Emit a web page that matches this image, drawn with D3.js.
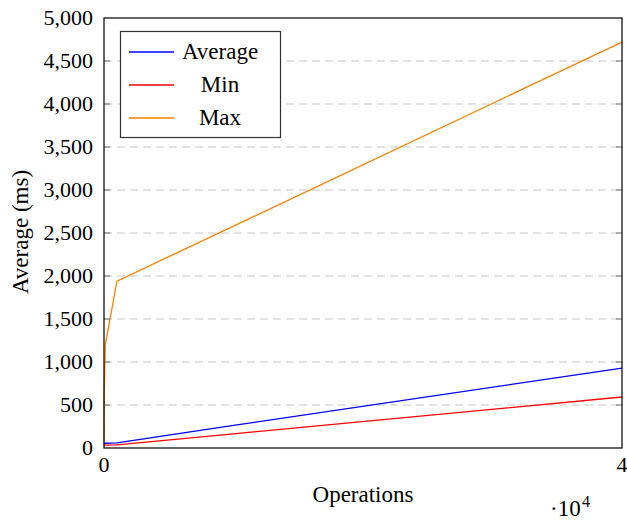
<!DOCTYPE html>
<html><head><meta charset="utf-8">
<script src="https://cdn.jsdelivr.net/npm/d3@7"></script>
<style>body{margin:0;background:#fff}svg{display:block}</style>
</head><body>
<script>
const operations = [1, 10, 100, 1000, 10000, 40000];
const averageVals = [62, 55, 55, 60, 262, 930];
const minVals = [35, 33, 33, 37, 165, 593];
const maxVals = [70, 600, 1200, 1940, 2580, 4720];
const yTicks = [0, 500, 1000, 1500, 2000, 2500, 3000, 3500, 4000, 4500, 5000];
const xTicks = [0, 40000];
const seriesNames = ["Average", "Min", "Max"];
const seriesColors = ["#0000ff", "#ff0000", "#ff8000"];

const W = 627, H = 522;
const L = 104, R = 622, T = 18, B = 448;
const FONT = "'Liberation Serif', 'Times New Roman', Times, 'DejaVu Serif', serif";
const svg = d3.select("body").append("svg").attr("width", W).attr("height", H)
  .attr("font-family", FONT).style("font-family", FONT);
const x = d3.scaleLinear().domain([0, 40000]).range([L, R]);
const y = d3.scaleLinear().domain([0, 5000]).range([B, T]);
const fs = 22, fl = 23;

// grid
svg.append("g").selectAll("line").data(yTicks.filter(d => d > 0 && d < 5000)).join("line")
  .attr("x1", L).attr("x2", R).attr("y1", d => y(d)).attr("y2", d => y(d))
  .attr("stroke", "#c8c8c8").attr("stroke-width", 1.2).attr("stroke-dasharray", "8,5");

// ticks inside (left & right)
const tk = svg.append("g").attr("stroke", "#808080").attr("stroke-width", 1.2);
yTicks.filter(d => d > 0 && d < 5000).forEach(d => {
  tk.append("line").attr("x1", L).attr("x2", L + 6).attr("y1", y(d)).attr("y2", y(d));
  tk.append("line").attr("x1", R - 6).attr("x2", R).attr("y1", y(d)).attr("y2", y(d));
});

// y axis labels
const fmt = d3.format(",");
svg.append("g").selectAll("text").data(yTicks).join("text")
  .attr("x", L - 11).attr("y", d => y(d)).attr("dy", "0.34em")
  .attr("text-anchor", "end").attr("font-size", fs).text(d => fmt(d));
// x labels
svg.append("g").selectAll("text").data(xTicks).join("text")
  .attr("x", d => x(d)).attr("y", B + 24).attr("text-anchor", "middle")
  .attr("font-size", fs).text(d => d / 10000);

// lines
const series = [averageVals, minVals, maxVals];
const line = d3.line().x((d, i) => x(operations[i])).y(d => y(d));
series.forEach((vals, k) => {
  svg.append("path").datum(vals).attr("d", line).attr("fill", "none")
    .attr("stroke", seriesColors[k]).attr("stroke-width", 1.3);
});

// frame
svg.append("rect").attr("x", L).attr("y", T).attr("width", R - L).attr("height", B - T)
  .attr("fill", "none").attr("stroke", "#000").attr("stroke-width", 1.2);

// axis titles
svg.append("text").attr("x", 363).attr("y", 502).attr("text-anchor", "middle")
  .attr("font-size", fl).text("Operations");
svg.append("text").attr("transform", "translate(28,232) rotate(-90)")
  .attr("text-anchor", "middle").attr("font-size", fl).text("Average (ms)");
svg.append("text").attr("x", 550).attr("y", 516).attr("font-size", fl).text("\u00b710");
svg.append("text").attr("x", 582).attr("y", 507).attr("font-size", 16).text("4");

// legend
const lg = svg.append("g");
lg.append("rect").attr("x", 120.5).attr("y", 31.5).attr("width", 160).attr("height", 106)
  .attr("fill", "#fff").attr("stroke", "#333").attr("stroke-width", 1.2);
seriesNames.forEach((n, i) => {
  const yy = 52 + i * 33;
  lg.append("line").attr("x1", 129).attr("x2", 174).attr("y1", yy).attr("y2", yy)
    .attr("stroke", seriesColors[i]).attr("stroke-width", 1.3);
  lg.append("text").attr("x", 220).attr("y", yy + 7).attr("text-anchor", "middle")
    .attr("font-size", fl).text(n);
});
</script>
</body></html>
